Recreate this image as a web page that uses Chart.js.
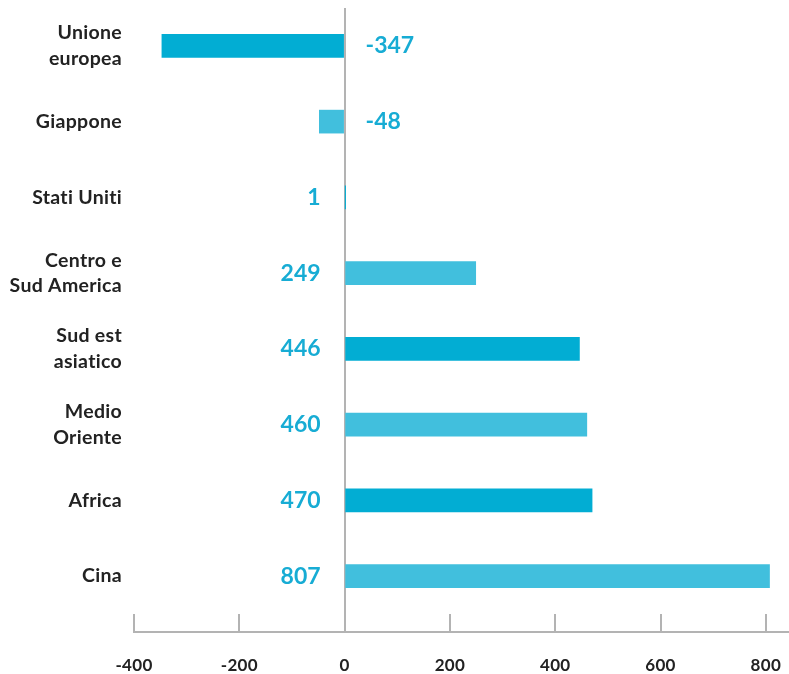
<!DOCTYPE html>
<html>
<head>
<meta charset="utf-8">
<script src="https://cdn.jsdelivr.net/npm/chart.js@4"></script>
<style>
html,body{margin:0;padding:0;background:#fff;}
#wrap{width:789px;height:674px;}
</style>
</head>
<body>
<div id="wrap"><canvas id="c" width="789" height="674"></canvas></div>
<script>
const categories = [
  ['Unione', 'europea'],
  'Giappone',
  'Stati Uniti',
  ['Centro e', 'Sud America'],
  ['Sud est', 'asiatico'],
  ['Medio', 'Oriente'],
  'Africa',
  'Cina'
];
const values = [-347, -48, 1, 249, 446, 460, 470, 807];
const barColors = ['#02add3', '#41bfdd', '#02add3', '#41bfdd', '#02add3', '#41bfdd', '#02add3', '#41bfdd'];
const xTicks = [-400, -200, 0, 200, 400, 600, 800];

const FONT = 'Lato, "Open Sans", sans-serif';
const LABEL_COLOR = '#17acd4';
const AXIS_GRAY = '#b3b3b3';
const TICK_LEN = 18;

const noLigatures = {
  id: 'noLigatures',
  beforeDraw(chart) {
    if ('letterSpacing' in chart.ctx) chart.ctx.letterSpacing = '0.3px';
  }
};

const valueLabels = {
  id: 'valueLabels',
  afterDatasetsDraw(chart) {
    const ctx = chart.ctx;
    const xs = chart.scales.x;
    const meta = chart.getDatasetMeta(0);
    const x0 = xs.getPixelForValue(0);
    ctx.save();
    if ('letterSpacing' in ctx) ctx.letterSpacing = '0px';
    ctx.font = 'bold 23px ' + FONT;
    ctx.fillStyle = LABEL_COLOR;
    ctx.textBaseline = 'middle';
    meta.data.forEach((bar, i) => {
      const v = values[i];
      if (v < 0) {
        ctx.textAlign = 'left';
        ctx.fillText(String(v), x0 + 21, bar.y);
      } else {
        ctx.textAlign = 'right';
        ctx.fillText(String(v), x0 - 24, bar.y);
      }
    });
    ctx.restore();
  }
};

const axisLine = {
  id: 'axisLine',
  afterDraw(chart) {
    const ctx = chart.ctx;
    const xs = chart.scales.x;
    const y = xs.top + TICK_LEN;
    ctx.save();
    ctx.strokeStyle = AXIS_GRAY;
    ctx.lineWidth = 2;
    ctx.beginPath();
    ctx.moveTo(xs.getPixelForValue(xTicks[0]) - 1, y);
    ctx.lineTo(chart.width, y);
    ctx.stroke();
    ctx.restore();
  }
};

new Chart(document.getElementById('c'), {
  type: 'bar',
  data: {
    labels: categories,
    datasets: [{
      data: values,
      backgroundColor: barColors,
      borderWidth: 0,
      barThickness: 23
    }]
  },
  options: {
    indexAxis: 'y',
    responsive: false,
    animation: false,
    layout: { padding: { top: 8, right: 0, left: 0, bottom: 0 } },
    plugins: { legend: { display: false }, tooltip: { enabled: false } },
    scales: {
      x: {
        min: -400,
        max: 844,
        afterBuildTicks(scale) {
          scale.ticks = xTicks.map(v => ({ value: v }));
        },
        afterFit(scale) {
          scale.height = 60;
          scale.paddingLeft = 0;
          scale.paddingRight = 0;
        },
        border: { display: false },
        grid: {
          drawOnChartArea: true,
          drawTicks: true,
          tickLength: TICK_LEN,
          lineWidth: 2,
          color: ctx => (ctx.tick && ctx.tick.value === 0) ? AXIS_GRAY : 'rgba(0,0,0,0)',
          tickColor: AXIS_GRAY
        },
        ticks: {
          autoSkip: false,
          maxRotation: 0,
          padding: 23,
          color: '#222',
          font: { family: FONT, size: 17, weight: 'bold' }
        }
      },
      y: {
        afterFit(scale) {
          scale.width = 134;
          scale.paddingTop = 0;
          scale.paddingBottom = 0;
        },
        border: { display: false },
        grid: { display: false, drawTicks: false },
        ticks: {
          padding: 12,
          color: '#222',
          font: { family: FONT, size: 19.5, weight: 'bold', lineHeight: 1.3 }
        }
      }
    }
  },
  plugins: [noLigatures, valueLabels, axisLine]
});
</script>
</body>
</html>
